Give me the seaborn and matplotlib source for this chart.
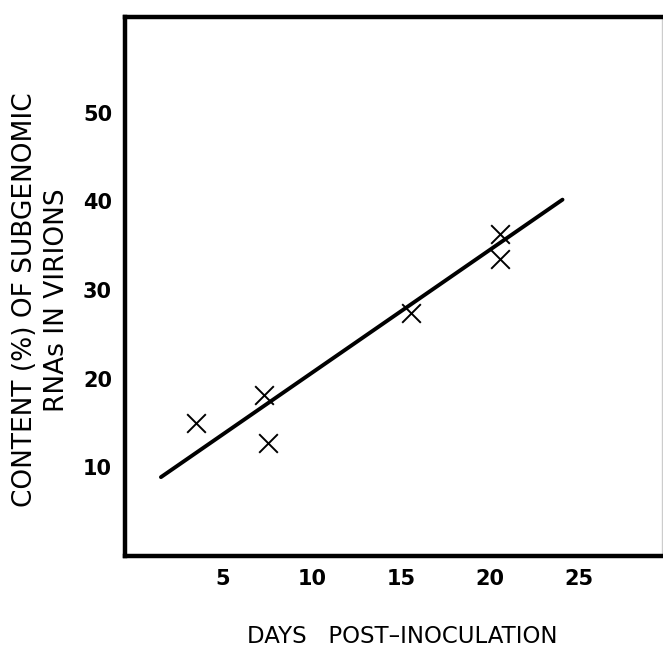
import matplotlib
matplotlib.use("Agg")
import matplotlib.pyplot as plt
import seaborn as sns

# puntos medidos (días post-inoculación, % de RNAs subgenómicos)
dias = [3.5, 7.3, 7.5, 15.6, 20.6, 20.6]
contenido = [15.0, 18.2, 12.8, 27.4, 36.3, 33.5]

# recta ajustada dibujada en la figura original (extremos)
dias_recta = [1.5, 24.1]
contenido_recta = [8.9, 40.2]

xticks = [5, 10, 15, 20, 25]
yticks = [10, 20, 30, 40, 50]

sns.set_style("white")
plt.rcParams['font.family'] = ['DejaVu Sans']
plt.rcParams['text.color'] = 'black'
plt.rcParams['axes.labelcolor'] = 'black'

fig = plt.figure(figsize=(6.63, 6.47), dpi=100)
ax = fig.add_axes([0.1878, 0.1406, 0.8107, 0.8331])

sns.lineplot(x=dias_recta, y=contenido_recta, color='black', linewidth=2.8, ax=ax)
sns.scatterplot(x=dias, y=contenido, marker='x', s=180, color='black',
                linewidth=1.4, ax=ax, zorder=3)

ax.set_xlim(-0.55, 29.7)
ax.set_ylim(0, 60.8)
ax.set_xticks(xticks)
ax.set_yticks(yticks)
ax.set_xticklabels([str(t) for t in xticks], fontsize=15, fontweight='bold')
ax.set_yticklabels([str(t) for t in yticks], fontsize=15, fontweight='bold')

ax.tick_params(axis='x', direction='in', length=8, width=2.2, pad=9, colors='black')
ax.tick_params(axis='y', direction='in', length=11, width=2.2, pad=9, colors='black')

for lado in ['left', 'bottom', 'top']:
    ax.spines[lado].set_linewidth(3.2)
    ax.spines[lado].set_color('black')
ax.spines['right'].set_linewidth(1.0)
ax.spines['right'].set_color('#cccccc')

ax.set_xlabel("DAYS   POST\u2013INOCULATION", fontsize=16.5, va='center')
ax.xaxis.set_label_coords(0.516, -0.149)
ax.set_ylabel("CONTENT (%) OF SUBGENOMIC\nRNAs IN VIRIONS", fontsize=19,
              va='center', linespacing=1.3)
ax.yaxis.set_label_coords(-0.156, 0.475)

fig.savefig("out.png", dpi=100)
